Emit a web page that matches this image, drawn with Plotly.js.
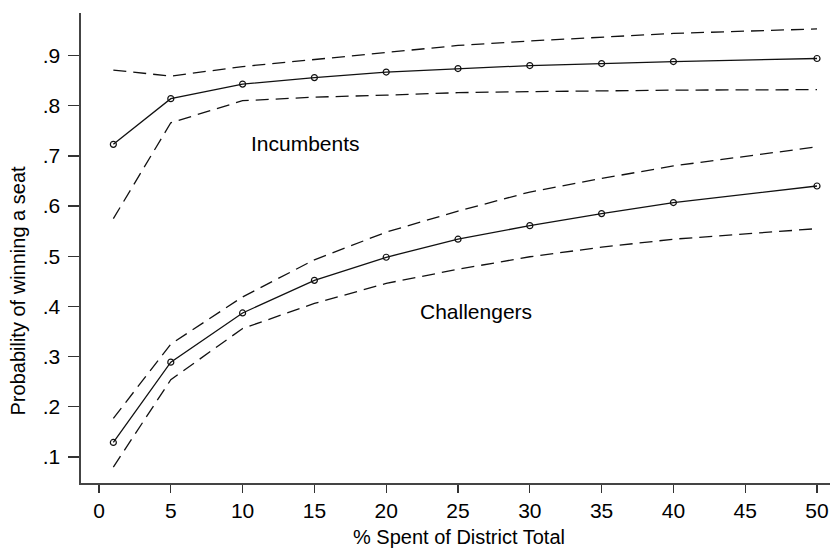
<!DOCTYPE html>
<html>
<head>
<meta charset="utf-8">
<script src="https://cdn.plot.ly/plotly-3.0.1.min.js"></script>
<style>html,body{margin:0;padding:0;background:#fff;}#chart{width:830px;height:548px;}</style>
</head>
<body>
<div id="chart"></div>
<script>
const spend = [1, 5, 10, 15, 20, 25, 30, 35, 40, 50];

const incumbent      = [0.723, 0.814, 0.843, 0.856, 0.867, 0.874, 0.880, 0.884, 0.888, 0.894];
const incumbentUpper = [0.871, 0.859, 0.878, 0.892, 0.906, 0.920, 0.929, 0.937, 0.944, 0.953];
const incumbentLower = [0.575, 0.766, 0.810, 0.817, 0.821, 0.826, 0.828, 0.830, 0.831, 0.832];

const challenger      = [0.129, 0.289, 0.387, 0.452, 0.498, 0.534, 0.561, 0.585, 0.607, 0.640];
const challengerUpper = [0.177, 0.325, 0.419, 0.493, 0.548, 0.590, 0.628, 0.655, 0.680, 0.718];
const challengerLower = [0.080, 0.254, 0.356, 0.406, 0.446, 0.474, 0.499, 0.518, 0.534, 0.555];

const yTickVals = [0.1, 0.2, 0.3, 0.4, 0.5, 0.6, 0.7, 0.8, 0.9];
const yTickText = ['.1', '.2', '.3', '.4', '.5', '.6', '.7', '.8', '.9'];
const xTickVals = [0, 5, 10, 15, 20, 25, 30, 35, 40, 45, 50];

const FONT = 'Liberation Sans, Arial, Helvetica, sans-serif';
const INK = '#111';

function mainTrace(y) {
  return {x: spend, y: y, type: 'scatter', mode: 'lines+markers',
    line: {color: INK, width: 1.3},
    marker: {symbol: 'circle-open', size: 6, color: INK, line: {width: 1.2, color: INK}},
    hoverinfo: 'x+y', showlegend: false};
}
function ciTrace(y) {
  return {x: spend, y: y, type: 'scatter', mode: 'lines',
    line: {color: INK, width: 1.3, dash: '13px,7px'},
    hoverinfo: 'x+y', showlegend: false};
}

const data = [
  ciTrace(incumbentUpper), mainTrace(incumbent), ciTrace(incumbentLower),
  ciTrace(challengerUpper), mainTrace(challenger), ciTrace(challengerLower)
];

const layout = {
  width: 830, height: 548,
  margin: {l: 81, r: 0, t: 13, b: 65},
  paper_bgcolor: '#fff', plot_bgcolor: '#fff',
  font: {family: FONT, size: 20, color: '#000'},
  showlegend: false,
  xaxis: {
    range: [-1.253, 50.905],
    tickmode: 'array', tickvals: xTickVals,
    ticks: 'outside', ticklen: 8.5, tickwidth: 1.3, tickcolor: '#333',
    showline: true, linecolor: '#444', linewidth: 1.6,
    showgrid: false, zeroline: false,
    tickfont: {family: FONT, size: 21, color: '#000'}
  },
  yaxis: {
    range: [0.0482, 0.9847],
    tickmode: 'array', tickvals: yTickVals, ticktext: yTickText,
    ticks: 'outside', ticklen: 11, tickwidth: 1.3, tickcolor: '#333',
    ticklabelstandoff: 4,
    showline: true, linecolor: '#444', linewidth: 1.6,
    showgrid: false, zeroline: false,
    tickfont: {family: FONT, size: 21, color: '#000'}
  },
  annotations: [
    {text: 'Incumbents', x: 14.4, y: 0.7255, xref: 'x', yref: 'y', showarrow: false,
     font: {family: FONT, size: 21, color: '#000'}},
    {text: 'Challengers', x: 26.25, y: 0.3905, xref: 'x', yref: 'y', showarrow: false,
     font: {family: FONT, size: 21, color: '#000'}},
    {text: '% Spent of District Total', x: 0.505, y: -0.115, xref: 'paper', yref: 'paper',
     showarrow: false, xanchor: 'center', yanchor: 'middle',
     font: {family: FONT, size: 20, color: '#000'}},
    {text: 'Probability of winning a seat', textangle: -90, x: -0.084, y: 0.43,
     xref: 'paper', yref: 'y', showarrow: false, xanchor: 'center', yanchor: 'middle',
     font: {family: FONT, size: 20, color: '#000'}}
  ]
};

Plotly.newPlot('chart', data, layout, {staticPlot: true, displayModeBar: false});
</script>
</body>
</html>
